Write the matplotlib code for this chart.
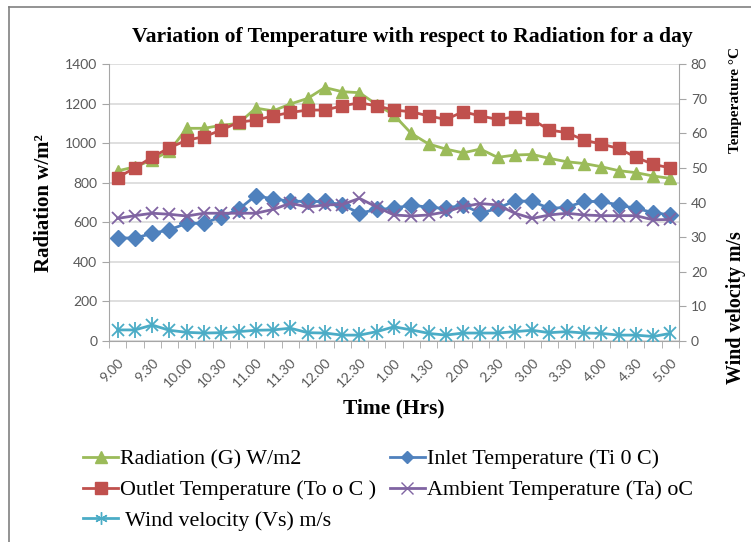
import matplotlib.pyplot as plt
from matplotlib.lines import Line2D

# time labels (every 15 min, labels shown every 30 min)
labels = ["9.00", "9.15", "9.30", "9.45", "10.00", "10.15", "10.30", "10.45",
          "11.00", "11.15", "11.30", "11.45", "12.00", "12.15", "12.30", "12.45",
          "1.00", "1.15", "1.30", "1.45", "2.00", "2.15", "2.30", "2.45",
          "3.00", "3.15", "3.30", "3.45", "4.00", "4.15", "4.30", "4.45", "5.00"]

radiation = [860, 880, 915, 960, 1075, 1075, 1090, 1100, 1177, 1163, 1198, 1226,
             1281, 1260, 1255, 1195, 1142, 1049, 996, 970, 951, 970, 928, 940,
             943, 923, 906, 897, 881, 861, 851, 834, 822]
outlet = [47.2, 50.0, 53.1, 55.8, 58.0, 59.0, 60.9, 63.2, 63.8, 65.0, 66.0, 66.7,
          66.7, 67.9, 68.8, 67.9, 66.7, 66.2, 65.0, 64.0, 66.2, 65.0, 64.0, 64.7,
          64.0, 60.9, 60.2, 58.0, 56.9, 55.6, 53.1, 51.0, 50.0]
inlet = [29.8, 29.7, 31.1, 32.1, 34.0, 34.0, 35.9, 38.0, 42.0, 41.0, 40.4, 40.3,
         40.3, 39.3, 36.9, 38.0, 38.3, 39.3, 38.6, 38.3, 39.3, 36.9, 38.3, 40.5,
         40.3, 38.3, 38.6, 40.3, 40.3, 39.3, 38.3, 37.1, 36.4]
ambient = [35.4, 36.2, 36.9, 36.6, 36.1, 36.9, 36.9, 36.9, 36.9, 38.0, 39.8, 38.7,
           39.3, 39.4, 41.2, 38.7, 36.4, 36.1, 36.4, 37.3, 38.8, 39.7, 39.3, 36.9,
           35.4, 36.4, 36.9, 36.4, 36.2, 36.2, 36.2, 35.0, 35.1]
wind = [3.2, 3.2, 4.6, 3.1, 2.5, 2.3, 2.4, 2.7, 3.1, 3.2, 3.7, 2.4,
        2.3, 1.7, 1.7, 2.7, 4.1, 3.2, 2.2, 1.7, 2.3, 2.3, 2.3, 2.7,
        3.1, 2.4, 2.7, 2.3, 2.2, 1.7, 1.7, 1.3, 2.2]

green = "#9BBB59"
red = "#C0504D"
blue = "#4F81BD"
purple = "#8064A2"
cyan = "#4BACC6"
serif = "Liberation Serif"
tickcol = "#595959"

x = list(range(len(labels)))

fig = plt.figure(figsize=(7.51, 5.42), dpi=100)
ax = fig.add_axes([109/751, 1-341/542, (679-109)/751, (341-64)/542])
ax2 = ax.twinx()

# border of chart area
fig.add_artist(Line2D([9/751, 9/751], [0, 1-7/542], color="#808080", lw=1.2))
fig.add_artist(Line2D([9/751, 1], [1-7/542, 1-7/542], color="#808080", lw=1.2))

ax.plot(x, radiation, color=green, lw=2, marker="^", ms=9)
ax2.plot(x, inlet, color=blue, lw=2, marker="D", ms=8)
ax2.plot(x, outlet, color=red, lw=2, marker="s", ms=9)
ax2.plot(x, ambient, color=purple, lw=2, marker="x", ms=9, mew=1.3)
ax2.plot(x, wind, color=cyan, lw=2, marker="x", ms=9, mew=1.3)
ax2.plot(x, wind, color=cyan, ls="none", marker="|", ms=11, mew=1.3)

ax.set_xlim(-0.5, len(labels) - 0.5)
ax.set_ylim(0, 1400)
ax2.set_ylim(0, 80)
ax.set_yticks(range(0, 1401, 200))
ax2.set_yticks(range(0, 81, 10))
ax.grid(axis="y", color="#D9D9D9", lw=1.2)
ax.set_axisbelow(True)

ax.set_xticks(x[::2])
ax.set_xticklabels(labels[::2], rotation=45, ha="right", rotation_mode="anchor",
                   family="Lato", fontsize=10, color=tickcol)
ax.set_xticks([i - 0.5 for i in range(len(labels) + 1)], minor=True)
ax.tick_params(axis="x", which="major", length=0, pad=11)
ax.tick_params(axis="x", which="minor", length=5, color="#A6A6A6")
for a in (ax, ax2):
    a.tick_params(axis="y", length=5, color="#A6A6A6", labelsize=10,
                  labelcolor=tickcol)
    for lab in a.get_yticklabels():
        lab.set_family("Lato")
    for s in a.spines.values():
        s.set_visible(False)
ax2.spines["right"].set_visible(True)
ax2.spines["right"].set_color("#A6A6A6")
ax.spines["left"].set_visible(True)
ax.spines["left"].set_color("#A6A6A6")
ax.spines["bottom"].set_visible(True)
ax.spines["bottom"].set_color("#A6A6A6")

fig.text(412/751, 1-37/542, "Variation of Temperature with respect to Radiation for a day",
         ha="center", va="center", family=serif, fontweight="bold", fontsize=15.6)
fig.text(44/751, 1-203/542, "Radiation w/m²", rotation=90, ha="center", va="center",
         family=serif, fontweight="bold", fontsize=15)
fig.text(736/751, 1-100/542, "Temperature °C", rotation=90, ha="center", va="center",
         family=serif, fontweight="bold", fontsize=11)
fig.text(736/751, 1-308/542, "Wind velocity m/s", rotation=90, ha="center", va="center",
         family=serif, fontweight="bold", fontsize=14.4)
fig.text(394/751, 1-408/542, "Time (Hrs)", ha="center", va="center",
         family=serif, fontweight="bold", fontsize=15.5)

handles = [
    Line2D([], [], color=green, lw=2, marker="^", ms=8),
    Line2D([], [], color=red, lw=2, marker="s", ms=8),
    Line2D([], [], color=cyan, lw=2, marker=(6, 2, 0), ms=9, mew=1),
    Line2D([], [], color=blue, lw=2, marker="D", ms=6),
    Line2D([], [], color=purple, lw=2, marker="x", ms=8, mew=1),
]
names = ["Radiation (G) W/m2", "Outlet Temperature (To o C )", " Wind velocity (Vs) m/s",
         "Inlet Temperature (Ti 0 C)", "Ambient Temperature (Ta) oC"]
fig.legend(handles, names, ncol=2, loc="upper left", bbox_to_anchor=(83/751, 1-449/542),
           frameon=False, prop={"family": serif, "size": 15.8}, handlelength=1.6,
           handletextpad=0.1, columnspacing=0.6, labelspacing=0.48, borderpad=0,
           borderaxespad=0)

fig.savefig("out.png", dpi=100)
